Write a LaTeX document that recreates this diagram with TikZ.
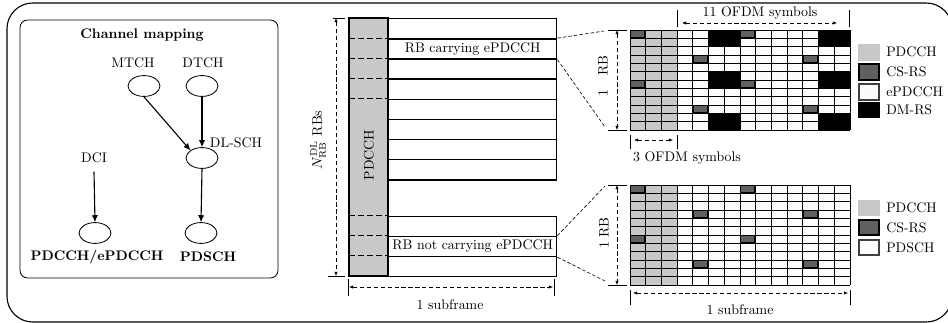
\documentclass[tikz,border=0pt]{standalone}
\usetikzlibrary{shapes.geometric,arrows.meta}
\definecolor{pgrey}{HTML}{C8C8C8}
\definecolor{csgrey}{HTML}{606060}
\definecolor{ewhite}{HTML}{FCFCFC}
\begin{document}
\begin{tikzpicture}[x=0.72pt,y=-0.72pt,
  lbl/.style={inner sep=0pt},
  oval/.style={ellipse,draw,line width=0.6pt,minimum width=23pt,minimum height=15pt,inner sep=0pt},
  arr/.style={-{Latex[length=5pt,width=4.5pt]},line width=0.8pt},
  dimarr/.style={{Latex[length=3pt,width=2.5pt]}-{Latex[length=3pt,width=2.5pt]},densely dashed,line width=0.45pt},
  tickl/.style={line width=0.7pt},
  zoomline/.style={dash pattern=on 2.5pt off 1.5pt,line width=0.45pt},
  rowbox/.style={draw,line width=1pt,fill=white,minimum width=121pt,minimum height=14.5pt,inner sep=0pt,anchor=north west},
  gridl/.style={line width=0.55pt,black},
  csrs/.style={fill=csgrey,draw=black,line width=1pt},
  pcdash/.style={dash pattern=on 4pt off 2.5pt,line width=0.6pt},
]
\useasboundingbox (0,0) rectangle (948,323);
\draw[line width=0.8pt,rounded corners=18.5pt] (7,3) rectangle (952,322);
% ---------------- left panel
\draw[line width=0.6pt,rounded corners=5.5pt] (20,20) rectangle (278,278);
\node[lbl,font=\bfseries] (title) at (142,35) {Channel mapping};
\node[lbl] (mtchl) at (133,63) {MTCH};
\node[lbl] (dtchl) at (203,63) {DTCH};
\node[oval] (mtch) at (144,86) {};
\node[oval] (dtch) at (202,86) {};
\node[oval] (dlsch) at (202,158) {};
\node[lbl] (dlschl) at (236,143) {DL-SCH};
\node[lbl] (dcil) at (94,158) {DCI};
\node[oval] (pdcch) at (95,233) {};
\node[oval] (pdsch) at (201,233) {};
\node[lbl,font=\bfseries] (pdcchl) at (97,257) {PDCCH/ePDCCH};
\node[lbl,font=\bfseries] (pdschl) at (208,257) {PDSCH};
\draw[arr] (mtch.south) -- (dlsch.north west);
\draw[arr] (dtch.south) -- (dlsch.north);
\draw[arr] (dlsch.south) -- (pdsch.north);
\draw[arr] ([yshift=-6pt]dcil.south) -- (pdcch.north);
% ---------------- middle panel
\fill[pgrey] (349,18) rectangle (388,276);
\node[rowbox] (t0) at (388,18) {};
\node[rowbox] (t1) at (388,38.15) {RB carrying ePDCCH};
\node[rowbox] (t2) at (388,58.3) {};
\node[rowbox] (t3) at (388,78.45) {};
\node[rowbox] (t4) at (388,98.6) {};
\node[rowbox] (t5) at (388,118.75) {};
\node[rowbox] (t6) at (388,138.9) {};
\node[rowbox] (t7) at (388,159.05) {};
\node[rowbox] (b0) at (388,215.5) {};
\node[rowbox] (b1) at (388,235.65) {RB not carrying ePDCCH};
\node[rowbox] (b2) at (388,255.8) {};
\draw[line width=1pt] (349,18) rectangle (388,276);
\foreach \yy in {38.15,58.3,78.45,98.6,215.5,235.65,255.8}
  \draw[pcdash] (349,\yy) -- (388,\yy);
\node[lbl,rotate=90] (pdcchcol) at (369,155) {PDCCH};
% N_RB arrow
\coordinate (na) at (336,18);
\coordinate (nb) at (336,276);
\draw[tickl] (333,18) -- (345,18);
\draw[tickl] (328,276) -- (345,276);
\draw[dimarr] (na) -- (nb);
\node[lbl,rotate=90] (nlab) at (318,140) {$N_{\mathrm{RB}}^{\mathrm{DL}}$ RBs};
% 1 subframe
\coordinate (sa) at (349,287);
\coordinate (sb) at (553,287);
\draw[tickl] (348,279) -- (348,296);
\draw[tickl] (554,279) -- (554,296);
\draw[dimarr] (sa) -- (sb);
\node[lbl] (sflab) at (450,305) {1 subframe};
% zoom lines
\coordinate (za) at (604,31);
\coordinate (zb) at (605,127);
\coordinate (zc) at (605,186);
\coordinate (zd) at (605,281);
\draw[zoomline] (t1.north east) -- (za);
\draw[zoomline] (t1.south east) -- (zb);
\draw[zoomline] (b1.north east) -- (zc);
\draw[zoomline] (b1.south east) -- (zd);
% ---------------- top grid
\fill[ewhite] (630,30) rectangle (850,130);
\fill[pgrey] (630,30) rectangle ({630+3*15.714},130);
\foreach \c in {5,12}
  \foreach \r in {0,5,10}
    \fill[black] ({630+\c*15.714},{30+\r*8.333}) rectangle ({630+(\c+2)*15.714},{30+(\r+2)*8.333});
\foreach \i in {0,...,14} \draw[gridl] ({630+\i*15.714},30) -- ({630+\i*15.714},130);
\foreach \j in {0,...,12} \draw[gridl] (630,{30+\j*8.333}) -- (850,{30+\j*8.333});
\foreach \c/\r in {0/0,7/0,4/3,11/3,0/6,7/6,4/9,11/9}
  \filldraw[csrs] ({630+\c*15.714+0.6},{30+\r*8.333+0.6}) rectangle ({630+(\c+1)*15.714-0.6},{30+(\r+1)*8.333-0.6});
% top grid dimensions
\draw[tickl] (608,30) -- (627,30);
\draw[tickl] (608,130) -- (627,130);
\coordinate (ra) at (617,30);
\coordinate (rb) at (617,130);
\draw[dimarr] (ra) -- (rb);
\node[lbl,rotate=90] (rblab1) at (603,76) {1\hspace{10pt}RB};
\draw[tickl] (677,10) -- (677,27);
\draw[tickl] (849,10) -- (849,27);
\coordinate (oa) at (682,23);
\coordinate (ob) at (837,23);
\draw[dimarr] (oa) -- (ob);
\node[lbl] (ofdm11) at (760,13) {11 OFDM symbols};
\draw[tickl] (630,135) -- (630,149);
\draw[tickl] (677,135) -- (677,149);
\coordinate (pa) at (634,140);
\coordinate (pb) at (673,140);
\draw[dimarr] (pa) -- (pb);
\node[lbl] (ofdm3) at (687,158) {3 OFDM symbols};
% ---------------- bottom grid
\fill[ewhite] (630,185) rectangle (850,285);
\fill[pgrey] (630,185) rectangle ({630+3*15.714},285);
\foreach \i in {0,...,14} \draw[gridl] ({630+\i*15.714},185) -- ({630+\i*15.714},285);
\foreach \j in {0,...,12} \draw[gridl] (630,{185+\j*8.333}) -- (850,{185+\j*8.333});
\foreach \c/\r in {0/0,7/0,4/3,11/3,0/6,7/6,4/9,11/9}
  \filldraw[csrs] ({630+\c*15.714+0.6},{185+\r*8.333+0.6}) rectangle ({630+(\c+1)*15.714-0.6},{185+(\r+1)*8.333-0.6});
\draw[tickl] (608,185) -- (627,185);
\draw[tickl] (608,285) -- (627,285);
\coordinate (rc) at (617,185);
\coordinate (rd) at (617,285);
\draw[dimarr] (rc) -- (rd);
\node[lbl,rotate=90] (rblab2) at (604,233) {1 RB};
\draw[tickl] (630,290) -- (630,305);
\draw[tickl] (850,290) -- (850,305);
\coordinate (qa) at (633,293);
\coordinate (qb) at (848,293);
\draw[dimarr] (qa) -- (qb);
\node[lbl] (sflab2) at (740,310) {1 subframe};
% ---------------- legends
\fill[pgrey] (858,44) rectangle (880,61);
\filldraw[fill=csgrey,draw=black,line width=1.4pt] (859,64) rectangle (879,80);
\filldraw[fill=ewhite,draw=black!75,line width=1pt] (859,84) rectangle (879,100);
\fill[black] (858,102) rectangle (880,118);
\node[lbl,anchor=west] (lg1) at (886,52) {PDCCH};
\node[lbl,anchor=west] (lg2) at (886,72) {CS-RS};
\node[lbl,anchor=west] (lg3) at (886,92) {ePDCCH};
\node[lbl,anchor=west] (lg4) at (886,110) {DM-RS};
\fill[pgrey] (858,200) rectangle (880,216);
\filldraw[fill=csgrey,draw=black,line width=1.4pt] (859,220) rectangle (879,235);
\filldraw[fill=ewhite,draw=black!75,line width=1pt] (859,240) rectangle (879,255);
\node[lbl,anchor=west] (lg5) at (886,208) {PDCCH};
\node[lbl,anchor=west] (lg6) at (886,228) {CS-RS};
\node[lbl,anchor=west] (lg7) at (886,248) {PDSCH};
\end{tikzpicture}
\end{document}
